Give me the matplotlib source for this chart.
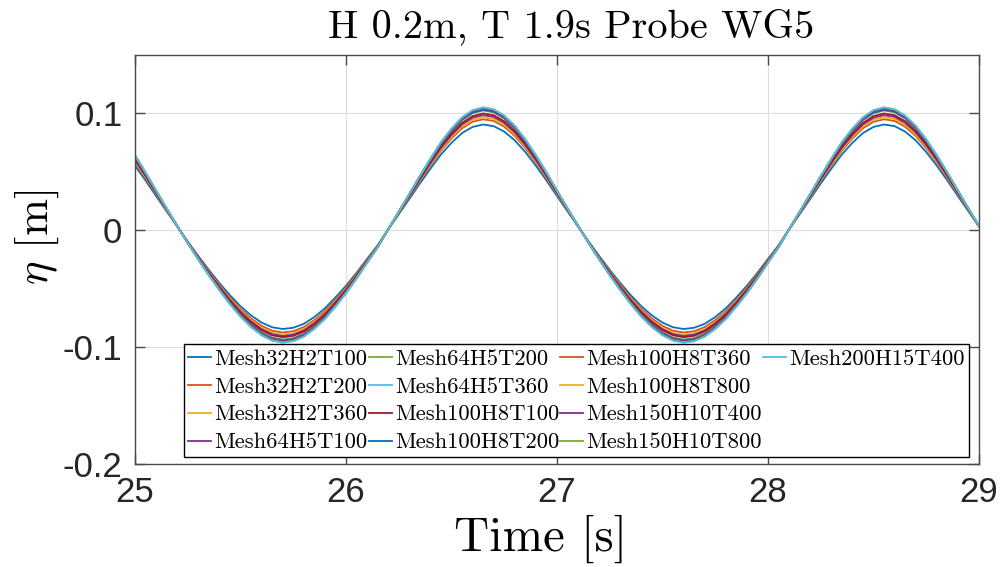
import matplotlib
matplotlib.use("Agg")
import matplotlib.pyplot as plt
from matplotlib.lines import Line2D
import numpy as np

plt.rcParams["mathtext.fontset"] = "cm"
plt.rcParams["axes.unicode_minus"] = False

# Time axis [s] (samples read every 0.05 s)
TIME = [25.0 + 0.05 * k for k in range(81)]

# Surface elevation of the upper envelope curve [m]
ETA_REF = [
    0.0642, 0.0495, 0.0340, 0.0188, 0.0038, -0.0108, -0.0247, -0.0381,
    -0.0507, -0.0625, -0.0731, -0.0819, -0.0888, -0.0933, -0.0950, -0.0938,
    -0.0900, -0.0835, -0.0751, -0.0647, -0.0534, -0.0409, -0.0275, -0.0145,
    0.0008, 0.0158, 0.0310, 0.0464, 0.0611, 0.0752, 0.0868, 0.0965,
    0.1026, 0.1050, 0.1034, 0.0980, 0.0893, 0.0777,
    0.0642, 0.0495, 0.0340, 0.0188, 0.0038, -0.0108, -0.0247, -0.0381,
    -0.0507, -0.0625, -0.0731, -0.0819, -0.0888, -0.0933, -0.0950, -0.0938,
    -0.0900, -0.0835, -0.0751, -0.0647, -0.0534, -0.0409, -0.0275, -0.0145,
    0.0008, 0.0158, 0.0310, 0.0464, 0.0611, 0.0752, 0.0868, 0.0965,
    0.1026, 0.1050, 0.1034, 0.0980, 0.0893, 0.0777,
    0.0642, 0.0495, 0.0340, 0.0188, 0.0038,
]
REF_CREST = 0.105
REF_TROUGH = -0.095

CASES = [
    "Mesh32H2T100", "Mesh32H2T200", "Mesh32H2T360", "Mesh64H5T100",
    "Mesh64H5T200", "Mesh64H5T360", "Mesh100H8T100", "Mesh100H8T200",
    "Mesh100H8T360", "Mesh100H8T800", "Mesh150H10T400", "Mesh150H10T800",
    "Mesh200H15T400",
]
# Crest and trough height of each case [m]
CREST = [0.0905, 0.0950, 0.0967, 0.0985, 0.1025, 0.1040, 0.1000, 0.1030,
         0.1040, 0.1045, 0.1040, 0.1050, 0.1052]
TROUGH = [-0.0845, -0.0875, -0.0893, -0.0905, -0.0935, -0.0948, -0.0915,
          -0.0940, -0.0948, -0.0952, -0.0950, -0.0958, -0.0962]

COLORS = ["#0072BD", "#D95319", "#EDB120", "#7E2F8E", "#77AC30",
          "#4DBEEE", "#A2142F"]

SERIF = "cmr10"

fig = plt.figure(figsize=(10.02, 5.67), dpi=100)
ax = fig.add_axes([0.1347, 0.1817, 0.8423, 0.7213])

ref = np.array(ETA_REF)
handles = []
for k, name in enumerate(CASES):
    eta = np.where(ref > 0, ref * CREST[k] / REF_CREST,
                   ref * TROUGH[k] / REF_TROUGH)
    h, = ax.plot(TIME, eta, color=COLORS[k % len(COLORS)], lw=1.3,
                 label=name)
    handles.append(h)

ax.set_xlim(25, 29)
ax.set_ylim(-0.2, 0.15)
ax.set_xticks([25, 26, 27, 28, 29])
ax.set_yticks([-0.2, -0.1, 0, 0.1])
ax.set_yticklabels(["-0.2", "-0.1", "0", "0.1"])
ax.grid(True, color="#dedede", lw=0.8)
ax.set_axisbelow(True)

for s in ax.spines.values():
    s.set_color("#4a4a4a")
    s.set_linewidth(1.0)
ax.tick_params(direction="in", length=7, width=1.0, color="#4a4a4a",
               top=True, right=True, labelsize=25, pad=9)
for lab in ax.get_xticklabels() + ax.get_yticklabels():
    lab.set_family("Liberation Sans")
    lab.set_color("#262626")

ax.set_title("H 0.2m, T 1.9s Probe WG5", family=SERIF, fontsize=29,
             x=0.517, pad=13)
ax.set_xlabel("Time [s]", family=SERIF, fontsize=35)
ax.xaxis.set_label_coords(0.481, -0.125)
ax.set_ylabel(r"$\eta$ [m]", family=SERIF, fontsize=32)
ax.yaxis.set_label_coords(-0.088, 0.555)

# pad the last column with blanks so the layout is 4-4-4-1
blank = Line2D([], [], alpha=0)
leg_h = handles + [blank] * 3
leg_l = CASES + [""] * 3
leg = ax.legend(leg_h, leg_l, ncol=4, loc="lower left",
                bbox_to_anchor=(0.058, 0.017), borderaxespad=0,
                prop={"family": SERIF, "size": 16.3}, frameon=True,
                fancybox=False, edgecolor="black", framealpha=1,
                handlelength=1.0, handletextpad=0.15, columnspacing=0.05,
                labelspacing=0.36, borderpad=0.2)
leg.get_frame().set_linewidth(1.0)

fig.savefig("out.png", dpi=100)
